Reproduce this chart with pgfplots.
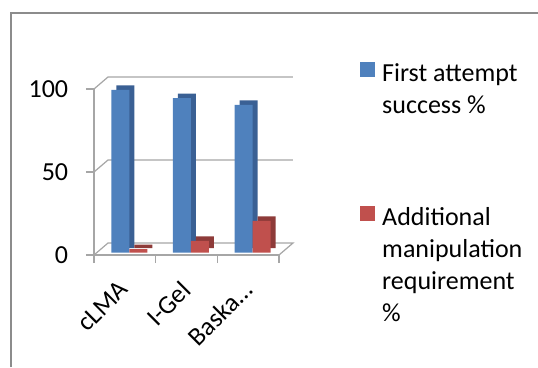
\documentclass[border=0pt]{standalone}
\usepackage{pgfplots}
\pgfplotsset{compat=1.18}
\usepackage{fontspec}
\setmainfont{Carlito}
\definecolor{bluefront}{HTML}{4F81BD}
\definecolor{blueside}{HTML}{3A6094}
\definecolor{redfront}{HTML}{C0504D}
\definecolor{redside}{HTML}{8E3B39}
\definecolor{gridc}{HTML}{A6A6A6}
\definecolor{framec}{HTML}{8C8C8C}
\begin{document}
\fontsize{26}{32}\selectfont
\begin{tikzpicture}[x=1pt,y=1pt]
\path[use as bounding box] (0,0) rectangle (538,-367);
\draw[framec, line width=1.5pt] (11,-367) -- (11,-13) -- (538,-13);
\begin{axis}[
  at={(94pt,-255pt)}, anchor=south west,
  scale only axis, width=185pt, height=166pt,
  xmin=-0.5, xmax=2.5, ymin=0, ymax=100,
  clip=false,
  axis x line*=bottom, axis y line*=left,
  axis line style={gridc, line width=1.2pt},
  tick style={gridc, line width=1.2pt},
  tick align=outside, major tick length=8pt,
  ytick={0,50,100},
  yticklabel style={xshift=-9pt},
  xtick={-0.5,0.5,1.5,2.5}, xticklabels={},
  extra x ticks={0,1,2}, extra x tick labels={cLMA,I-Gel,Baska…},
  extra x tick style={major tick length=0pt, xticklabel style={anchor=north east, inner sep=0pt, yshift=-24pt, xshift=-7pt, rotate=45}},
  /pgf/number format/assume math mode=true,
  legend style={at={(1.438,1.169)}, anchor=north west, draw=none, fill=none,
    inner sep=0pt, row sep=87pt, cells={anchor=base west, align=left, inner sep=2pt}},
]
\draw[gridc, line width=1.2pt] (axis cs:-0.5,0) -- ++(14pt,12pt) -- ([shift={(14pt,12pt)}]axis cs:2.5,0) -- (axis cs:2.5,0);
\draw[gridc, line width=1.2pt] (axis cs:-0.5,50) -- ++(14pt,12pt) -- ([shift={(14pt,12pt)}]axis cs:2.5,50);
\draw[gridc, line width=1.2pt] (axis cs:-0.5,100) -- ++(14pt,12pt) -- ([shift={(14pt,12pt)}]axis cs:2.5,100);
\addplot[ybar, bar width=18pt, bar shift=-4.5pt, fill=blueside, draw=none, xshift=5pt, yshift=7pt, forget plot] coordinates {(0,98) (1,93) (2,89)};
\addplot[ybar, bar width=18pt, bar shift=-4.5pt, fill=bluefront, draw=none, yshift=2.5pt,
  legend image code/.code={\fill[bluefront,draw=none] (0pt,34pt) rectangle (15pt,49pt); \path (20pt,34pt);}] coordinates {(0,98) (1,93) (2,89)};
\addplot[ybar, bar width=18pt, bar shift=13.5pt, fill=redside, draw=none, xshift=5pt, yshift=7pt, forget plot] coordinates {(0,2) (1,7) (2,19)};
\addplot[ybar, bar width=18pt, bar shift=13.5pt, fill=redfront, draw=none, yshift=2.5pt,
  legend image code/.code={\fill[redfront,draw=none] (0pt,98pt) rectangle (15pt,113pt); \path (20pt,98pt);}] coordinates {(0,2) (1,7) (2,19)};
\legend{First attempt\\success \%, Additional\\manipulation\\requirement\\\%}
\end{axis}
\end{tikzpicture}
\end{document}
